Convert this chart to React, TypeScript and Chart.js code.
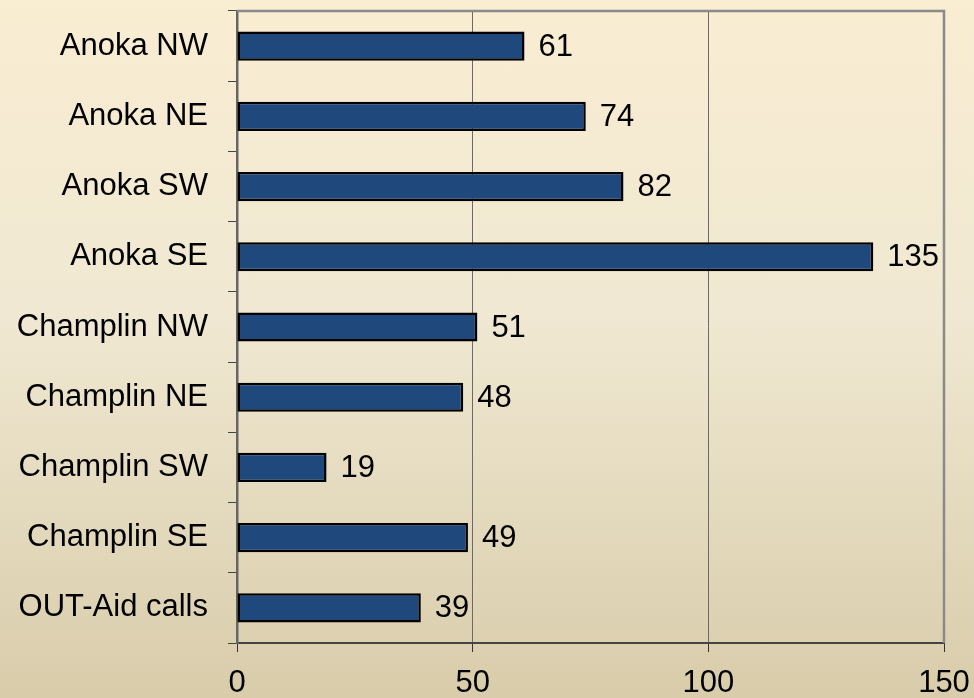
import React, { useEffect, useRef } from "react";
import { Chart, registerables } from "chart.js";

Chart.register(...registerables);

const categories = [
  "Anoka NW",
  "Anoka NE",
  "Anoka SW",
  "Anoka SE",
  "Champlin NW",
  "Champlin NE",
  "Champlin SW",
  "Champlin SE",
  "OUT-Aid calls",
];
const values = [61, 74, 82, 135, 51, 48, 19, 49, 39];
const xMin = 0;
const xMax = 150;
const xStep = 50;

const FONT = "'Liberation Sans', Arial, sans-serif";

const plotFrame = {
  id: "plotFrame",
  afterDraw(chart: any) {
    const { ctx, chartArea } = chart;
    ctx.save();
    ctx.strokeStyle = "#8a8a8a";
    ctx.lineWidth = 2.5;
    ctx.beginPath();
    ctx.moveTo(chartArea.left, chartArea.top);
    ctx.lineTo(chartArea.right, chartArea.top);
    ctx.lineTo(chartArea.right, chartArea.bottom);
    ctx.stroke();
    ctx.restore();
  },
};

const valueLabels = {
  id: "valueLabels",
  afterDraw(chart: any) {
    const { ctx } = chart;
    const meta = chart.getDatasetMeta(0);
    ctx.save();
    ctx.font = `31px ${FONT}`;
    ctx.fillStyle = "#000";
    ctx.textAlign = "left";
    ctx.textBaseline = "middle";
    meta.data.forEach((bar: any, i: number) => {
      const v = chart.data.datasets[0].data[i];
      ctx.fillText(String(v), bar.x + 14, bar.y + 1);
    });
    ctx.restore();
  },
};

export default function App() {
  const ref = useRef<HTMLCanvasElement | null>(null);

  useEffect(() => {
    document.body.style.margin = "0";
    const canvas = ref.current!;
    const chart = new Chart(canvas, {
      type: "bar",
      data: {
        labels: categories,
        datasets: [
          {
            data: values,
            backgroundColor: "#1F487C",
            borderColor: "#000000",
            borderWidth: 2.5,
            borderSkipped: false,
            barPercentage: 0.415,
            categoryPercentage: 1,
          },
        ],
      },
      options: {
        indexAxis: "y",
        animation: false,
        responsive: false,
        maintainAspectRatio: false,
        layout: { padding: { top: 11, right: 30, left: 0, bottom: 0 } },
        plugins: {
          legend: { display: false },
          tooltip: { enabled: false },
        },
        scales: {
          x: {
            type: "linear",
            min: xMin,
            max: xMax,
            ticks: {
              stepSize: xStep,
              color: "#000",
              font: { family: FONT, size: 31 },
              padding: 13,
              maxRotation: 0,
            },
            grid: {
              color: "#6a6a6a",
              lineWidth: 1,
              tickLength: 9,
              tickColor: "#333",
            },
            border: { color: "#444", width: 2 },
            afterFit(scale: any) {
              scale.height = 55;
              scale.paddingLeft = 0;
              scale.paddingRight = 0;
            },
          },
          y: {
            type: "category",
            ticks: {
              color: "#000",
              font: { family: FONT, size: 31 },
              padding: 20,
            },
            grid: {
              offset: true,
              drawOnChartArea: false,
              drawTicks: true,
              tickLength: 9,
              tickColor: "#444",
            },
            border: { color: "#666", width: 2.5 },
            afterFit(scale: any) {
              scale.width = 237;
              scale.paddingTop = 0;
              scale.paddingBottom = 0;
            },
          },
        },
      } as any,
      plugins: [plotFrame, valueLabels],
    });
    return () => chart.destroy();
  }, []);

  return (
    <div
      style={{
        position: "relative",
        width: 974,
        height: 698,
        background: "linear-gradient(to bottom, #F9EDD2 0%, #F0E8D2 45%, #D8CCAA 100%)",
      }}
    >
      <canvas ref={ref} width={974} height={698} style={{ display: "block" }} />
    </div>
  );
}
